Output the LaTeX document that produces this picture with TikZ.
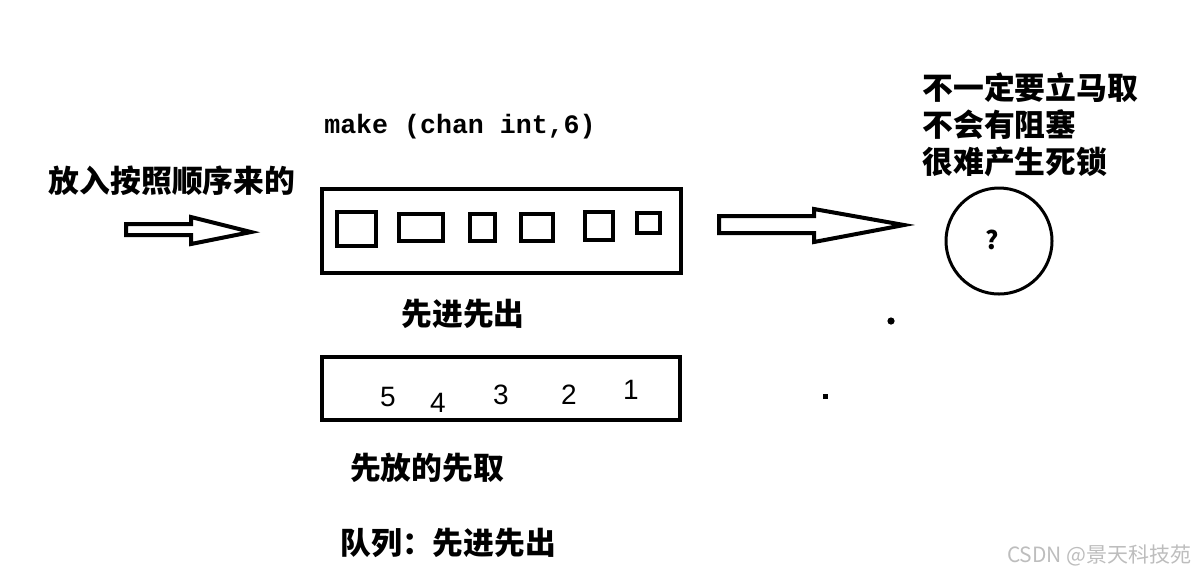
\documentclass[tikz,border=0pt]{standalone}
\usepackage{fontspec}
\usepackage{tikz}
\usetikzlibrary{positioning}
\newfontfamily\cjk{Noto Sans CJK SC}
\newfontfamily\codefont{Liberation Mono}
\newfontfamily\numfont{Liberation Sans}
\definecolor{mark}{HTML}{BDBDBD}

\begin{document}
\begin{tikzpicture}[
  x=0.5pt, y=-0.5pt,
  boxline/.style={draw, line width=2pt},
  slot/.style={draw, line width=2pt},
  blockarrow/.style={draw, line width=2pt, line join=miter},
  note/.style={font=\cjk\bfseries\fontsize{15.4}{18.5}\selectfont, inner sep=0pt, align=left},
  code/.style={font=\codefont\bfseries\fontsize{13.3}{16}\selectfont, inner sep=0pt},
  digit/.style={font=\numfont\fontsize{14}{14}\selectfont, inner sep=0pt},
  watermark/.style={font=\cjk\fontsize{10.5}{12}\selectfont, text=mark, inner sep=0pt}
]
\useasboundingbox (0,0) rectangle (1197,575);

% producer side
\node[note] (putIn) at (172,181) {放入按照顺序来的};
\draw[blockarrow] (126,224) -- (191,224) -- (191,217) -- (251,232) -- (191,244) -- (191,235) -- (126,235) -- cycle;

% buffered channel
\node[code] (makeChan) at (460,127) {make (chan int,6)};
\draw[boxline] (322,189) rectangle (681,273);
\foreach \xa/\ya/\xb/\yb in {337/212/376/246, 399/214/443/241, 470/214/495/241,
                             521/214/553/241, 585/212/613/240, 637/213/660/233}
  \draw[slot] (\xa,\ya) rectangle (\xb,\yb);
\node[note] (fifo) at (463,314) {先进先出};

% queue
\draw[boxline] (322,357) rectangle (680,420);
\foreach \d/\x/\y in {5/388/397, 4/438/403, 3/501/395, 2/569/395, 1/631/390}
  \node[digit] (num\d) at (\x,\y) {\d};
\node[note] (firstOut) at (427,468) {先放的先取};
\node[note, anchor=west] (queue) at (340,543) {队列：先进先出};

% consumer side
\draw[blockarrow] (719,216) -- (814,216) -- (814,209) -- (904,225) -- (814,242) -- (814,233) -- (719,233) -- cycle;
\node[draw, circle, line width=1.5pt, minimum size=53pt, inner sep=0pt] (reader) at (999,241) {};
\node[font=\cjk\bfseries\fontsize{12.5}{13}\selectfont, inner sep=0pt] (ask) at (992,240) {?};
\node[note, anchor=west] (remarks) at (922,125) {不一定要立马取\\不会有阻塞\\很难产生死锁};

\fill (891,321) circle (1.8pt);
\fill (822.5,393.5) rectangle (828,399);

\node[watermark, anchor=east] (csdn) at (1192,555) {CSDN @景天科技苑};
\end{tikzpicture}
\end{document}
